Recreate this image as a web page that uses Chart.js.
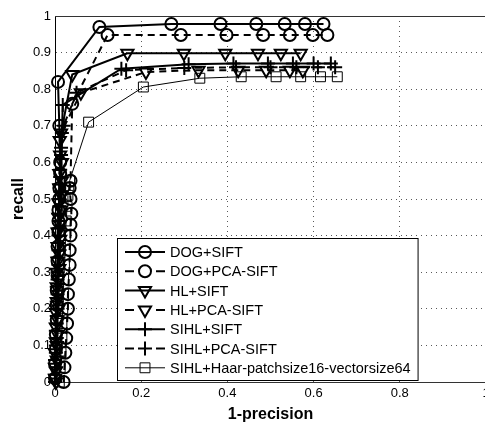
<!DOCTYPE html>
<html>
<head>
<meta charset="utf-8">
<script src="https://cdn.jsdelivr.net/npm/chart.js@4/dist/chart.umd.min.js"></script>
<style>
  html, body { margin: 0; padding: 0; background: #fff; overflow: hidden; }
  #wrap { width: 495px; height: 423px; }
</style>
</head>
<body>
<div id="wrap"><canvas id="c" width="495" height="423"></canvas></div>
<script>
// Recall vs. 1-precision for seven detector/descriptor combinations.
const seriesNames = [
  'DOG+SIFT',
  'DOG+PCA-SIFT',
  'HL+SIFT',
  'HL+PCA-SIFT',
  'SIHL+SIFT',
  'SIHL+PCA-SIFT',
  'SIHL+Haar-patchsize16-vectorsize64'
];

const xTicks = [0, 0.2, 0.4, 0.6, 0.8, 1];
const yTicks = [0, 0.1, 0.2, 0.3, 0.4, 0.5, 0.6, 0.7, 0.8, 0.9, 1];

// 1-precision values (x) and recall values (y) for each curve
const dogSiftX = [0.0, 0.0, 0.002, 0.002, 0.004, 0.004, 0.004, 0.006, 0.006, 0.006, 0.008, 0.008, 0.008, 0.01, 0.01, 0.012, 0.012, 0.01, 0.007, 0.103, 0.27, 0.384, 0.467, 0.533, 0.58, 0.623];
const dogSiftY = [0.01, 0.05, 0.09, 0.13, 0.17, 0.21, 0.25, 0.29, 0.33, 0.37, 0.41, 0.44, 0.47, 0.5, 0.53, 0.57, 0.6, 0.7, 0.82, 0.97, 0.978, 0.978, 0.978, 0.978, 0.978, 0.978];

const dogPcaX = [0.02, 0.022, 0.024, 0.026, 0.028, 0.03, 0.03, 0.032, 0.034, 0.034, 0.036, 0.036, 0.038, 0.036, 0.034, 0.036, 0.04, 0.122, 0.292, 0.398, 0.483, 0.545, 0.598, 0.632];
const dogPcaY = [0.0, 0.04, 0.08, 0.12, 0.16, 0.2, 0.24, 0.28, 0.32, 0.36, 0.4, 0.43, 0.46, 0.5, 0.53, 0.55, 0.76, 0.948, 0.948, 0.948, 0.948, 0.948, 0.948, 0.948];

const hlSiftX = [0.002, 0.002, 0.004, 0.004, 0.006, 0.006, 0.008, 0.008, 0.008, 0.01, 0.01, 0.012, 0.012, 0.014, 0.014, 0.016, 0.016, 0.011, 0.04, 0.168, 0.299, 0.395, 0.471, 0.524, 0.57];
const hlSiftY = [0.0, 0.03, 0.06, 0.1, 0.13, 0.17, 0.2, 0.24, 0.28, 0.31, 0.35, 0.39, 0.43, 0.47, 0.51, 0.55, 0.6, 0.66, 0.84, 0.898, 0.898, 0.898, 0.898, 0.898, 0.898];

const hlPcaX = [0.0, 0.0, 0.0, 0.002, 0.002, 0.002, 0.004, 0.004, 0.004, 0.006, 0.006, 0.006, 0.008, 0.008, 0.01, 0.01, 0.012, 0.014, 0.06, 0.211, 0.333, 0.425, 0.49, 0.545, 0.575];
const hlPcaY = [0.01, 0.04, 0.08, 0.11, 0.15, 0.19, 0.22, 0.26, 0.3, 0.33, 0.37, 0.41, 0.45, 0.49, 0.53, 0.57, 0.62, 0.68, 0.79, 0.847, 0.852, 0.852, 0.852, 0.852, 0.852];

const sihlSiftX = [0.0, 0.002, 0.002, 0.004, 0.004, 0.006, 0.006, 0.006, 0.008, 0.008, 0.008, 0.01, 0.01, 0.012, 0.012, 0.014, 0.016, 0.018, 0.154, 0.31, 0.414, 0.494, 0.552, 0.6, 0.64];
const sihlSiftY = [0.0, 0.04, 0.08, 0.12, 0.16, 0.2, 0.24, 0.28, 0.32, 0.36, 0.4, 0.44, 0.48, 0.52, 0.56, 0.62, 0.68, 0.757, 0.856, 0.868, 0.87, 0.87, 0.87, 0.87, 0.87];

const sihlPcaX = [0.0, 0.0, 0.002, 0.002, 0.004, 0.004, 0.004, 0.006, 0.006, 0.008, 0.008, 0.008, 0.01, 0.01, 0.012, 0.014, 0.02, 0.05, 0.165, 0.3, 0.42, 0.5, 0.56, 0.61, 0.65];
const sihlPcaY = [0.02, 0.06, 0.1, 0.14, 0.18, 0.22, 0.26, 0.3, 0.34, 0.38, 0.42, 0.46, 0.5, 0.54, 0.58, 0.64, 0.7, 0.79, 0.852, 0.858, 0.86, 0.86, 0.86, 0.86, 0.86];

const haarX = [0.01, 0.012, 0.014, 0.016, 0.016, 0.018, 0.02, 0.02, 0.022, 0.024, 0.024, 0.026, 0.028, 0.03, 0.032, 0.034, 0.078, 0.205, 0.336, 0.432, 0.513, 0.57, 0.616, 0.655];
const haarY = [0.0, 0.04, 0.08, 0.12, 0.16, 0.2, 0.24, 0.28, 0.32, 0.36, 0.4, 0.44, 0.48, 0.51, 0.53, 0.55, 0.71, 0.806, 0.83, 0.834, 0.834, 0.834, 0.834, 0.834];

const FONT = '"Liberation Sans", Arial, Helvetica, sans-serif';

function pts(xs, ys) {
  return xs.map((x, i) => ({ x: x, y: ys[i] }));
}

function series(label, xs, ys, style, dashed, thin, radius, rotation) {
  return {
    label: label,
    data: pts(xs, ys),
    showLine: true,
    borderColor: '#000',
    borderWidth: thin ? 1 : 2,
    borderDash: dashed ? [7, 5] : [],
    pointStyle: style,
    pointRadius: radius,
    pointHoverRadius: radius,
    pointRotation: rotation || 0,
    pointBorderColor: '#000',
    pointBackgroundColor: 'rgba(0,0,0,0)',
    pointBorderWidth: thin ? 1 : 2,
    clip: false,
    tension: 0
  };
}

const datasets = [
  series(seriesNames[0], dogSiftX, dogSiftY, 'circle', false, false, 6),
  series(seriesNames[1], dogPcaX, dogPcaY, 'circle', true, false, 6),
  series(seriesNames[2], hlSiftX, hlSiftY, 'triangle', false, false, 7, 180),
  series(seriesNames[3], hlPcaX, hlPcaY, 'triangle', true, false, 7, 180),
  series(seriesNames[4], sihlSiftX, sihlSiftY, 'cross', false, false, 7),
  series(seriesNames[5], sihlPcaX, sihlPcaY, 'cross', true, false, 7),
  series(seriesNames[6], haarX, haarY, 'rect', false, true, 7)
];

function fmt(v) {
  const r = Math.round(v * 10) / 10;
  return String(r);
}

// Box outline on top, axis titles and the boxed legend inside the plot
const decorations = {
  id: 'decorations',
  beforeDatasetsDraw(chart) {
    const { ctx, chartArea: a } = chart;
    ctx.save();
    ctx.strokeStyle = '#333';
    ctx.lineWidth = 1;
    ctx.beginPath();
    ctx.moveTo(a.left, a.top + 0.5);
    ctx.lineTo(a.right, a.top + 0.5);
    ctx.stroke();
    ctx.restore();
  },
  afterDatasetsDraw(chart) {
    const { ctx, chartArea: a } = chart;
    ctx.save();

    // axis titles
    ctx.fillStyle = '#000';
    ctx.font = 'bold 16px ' + FONT;
    ctx.textAlign = 'center';
    ctx.textBaseline = 'alphabetic';
    ctx.fillText('1-precision', (a.left + a.right) / 2, 419);
    ctx.save();
    ctx.translate(23, (a.top + a.bottom) / 2 + 0);
    ctx.rotate(-Math.PI / 2);
    ctx.fillText('recall', 0, 0);
    ctx.restore();

    // legend
    const boxLeft = a.left + 62;
    const boxTop = 238;
    const rowH = 19.3;
    const firstRow = 252;
    const lineX0 = boxLeft + 8;
    const lineX1 = boxLeft + 48;
    const textX = boxLeft + 53;
    ctx.font = '14.5px ' + FONT;
    let maxW = 0;
    chart.data.datasets.forEach(ds => { maxW = Math.max(maxW, ctx.measureText(ds.label).width); });
    const boxW = (textX - boxLeft) + maxW + 7;
    const boxH = 142;
    ctx.fillStyle = '#fff';
    ctx.fillRect(boxLeft, boxTop, boxW, boxH);
    ctx.strokeStyle = '#000';
    ctx.lineWidth = 1;
    ctx.strokeRect(boxLeft + 0.5, boxTop + 0.5, boxW, boxH);

    chart.data.datasets.forEach((ds, i) => {
      const y = firstRow + i * rowH;
      ctx.save();
      ctx.strokeStyle = '#000';
      ctx.lineWidth = ds.borderWidth;
      ctx.beginPath();
      if (ds.borderDash && ds.borderDash.length) {
        ctx.moveTo(lineX0, y); ctx.lineTo(lineX0 + 9, y);
        ctx.moveTo(lineX1 - 9, y); ctx.lineTo(lineX1, y);
      } else {
        ctx.moveTo(lineX0, y); ctx.lineTo(lineX1, y);
      }
      ctx.stroke();
      ctx.fillStyle = 'rgba(0,0,0,0)';
      ctx.lineWidth = ds.pointBorderWidth;
      Chart.helpers.drawPoint(ctx, {
        pointStyle: ds.pointStyle,
        radius: ds.pointRadius,
        rotation: ds.pointRotation,
        borderWidth: ds.pointBorderWidth
      }, (lineX0 + lineX1) / 2, y);
      ctx.restore();
      ctx.fillStyle = '#000';
      ctx.textAlign = 'left';
      ctx.textBaseline = 'middle';
      ctx.fillText(ds.label, textX, y + 1);
    });
    ctx.restore();
  }
};

new Chart(document.getElementById('c'), {
  type: 'scatter',
  data: { datasets: datasets },
  options: {
    responsive: false,
    animation: false,
    events: [],
    layout: { padding: { top: 16, right: 5, left: 0, bottom: 0 } },
    plugins: { legend: { display: false }, tooltip: { enabled: false } },
    scales: {
      x: {
        type: 'linear',
        min: 0, max: 1,
        afterFit: s => { s.height = 41; },
        afterBuildTicks: s => { s.ticks = xTicks.map(v => ({ value: v })); },
        ticks: {
          font: { family: FONT, size: 13 },
          color: '#000',
          padding: 4,
          maxRotation: 0,
          callback: v => fmt(v)
        },
        grid: { color: 'rgba(0,0,0,0.65)', drawTicks: false, lineWidth: 1 },
        border: { display: true, color: '#333', width: 1, dash: [1, 4] }
      },
      y: {
        type: 'linear',
        min: 0, max: 1,
        afterFit: s => { s.width = 55; },
        afterBuildTicks: s => { s.ticks = yTicks.map(v => ({ value: v })); },
        ticks: {
          font: { family: FONT, size: 13 },
          color: '#000',
          padding: 4,
          callback: v => fmt(v)
        },
        grid: { color: 'rgba(0,0,0,0.65)', drawTicks: false, lineWidth: 1 },
        border: { display: true, color: '#000', width: 1, dash: [1, 4] }
      }
    }
  },
  plugins: [decorations]
});
</script>
</body>
</html>
